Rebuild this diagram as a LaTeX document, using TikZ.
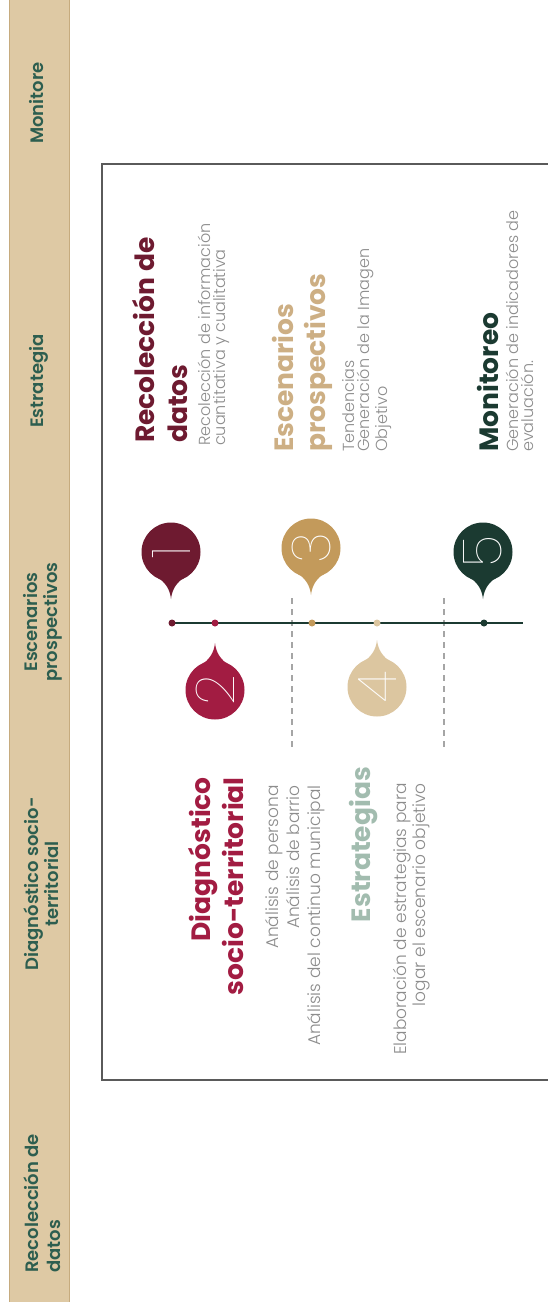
\documentclass[tikz,border=0pt]{standalone}
\usepackage{fontspec}
\setmainfont{Poppins}
\newfontfamily\popbold{Poppins Bold}
\newfontfamily\popsemi{Poppins SemiBold}
\newfontfamily\poplight{Poppins Light}
\newfontfamily\popthin{Poppins Thin}
\usetikzlibrary{calc}
\definecolor{maroon}{HTML}{6E1A30}
\definecolor{crimson}{HTML}{A21C42}
\definecolor{gold}{HTML}{C39A5B}
\definecolor{beige}{HTML}{DCC6A0}
\definecolor{dkgreen}{HTML}{1B3A31}
\definecolor{sage}{HTML}{A2BCAF}
\definecolor{tantitle}{HTML}{CDAF84}
\definecolor{bodygray}{HTML}{8C8C8C}
\definecolor{bandfill}{HTML}{DEC9A4}
\definecolor{bandedge}{HTML}{C6AB7E}
\definecolor{bandtext}{HTML}{2D5E4F}
\definecolor{boxgray}{HTML}{5A5A5A}
\definecolor{dashcol}{HTML}{A5A5A5}
\newcommand\droptip[3]{\fill[#3, shift={(#1)}, yscale=#2] (0,47) .. controls (-1,37) and (-6,30) .. (-14,25) -- (14,25) .. controls (6,30) and (1,37) .. (0,47) -- cycle;}
\begin{document}
\begin{tikzpicture}[x=1pt,y=-1pt,
  bandlabel/.style={rotate=90, inner sep=0, text=bandtext, font=\popsemi\fontsize{18}{20}\selectfont},
  titletext/.style={rotate=90, inner sep=0, font=\popbold\fontsize{26.5}{33}\selectfont},
  bodytext/.style={rotate=90, inner sep=0, text=bodygray, font=\poplight\fontsize{16}{15}\selectfont},
  bubble/.style={circle, inner sep=0, minimum size=59pt},
  numtext/.style={rotate=90, inner sep=0, text=white, font=\popthin\fontsize{54}{54}\selectfont},
  dotnode/.style={circle, inner sep=0, minimum size=7pt},
  timeline/.style={draw=dkgreen, line width=2.6pt},
  dashgray/.style={draw=dashcol, line width=1.6pt, dash pattern=on 6pt off 5pt},
  boxline/.style={draw=boxgray, line width=1.3pt}]
\useasboundingbox (0,0) rectangle (547,1302);
\fill[white] (0,0) rectangle (547,1302);
% band
\fill[bandfill] (9,0) rectangle (70,1302);
\draw[bandedge, line width=1pt] (9.5,0) -- (9.5,1302) (69.5,0) -- (69.5,1302);
\node[bandlabel, anchor=base] (l1) at (43,103) {Monitore};
\node[bandlabel, anchor=base] (l2) at (43,381) {Estrategia};
\node[bandlabel, anchor=base, align=center] (l3) at (57,622) {Escenarios\\prospectivos};
\node[bandlabel, anchor=base, align=center] (l4) at (58,884) {Diagnóstico socio-\\territorial};
\node[bandlabel, anchor=base west, align=left, font=\popsemi\fontsize{18}{22}\selectfont] (l5) at (60,1273) {Recolección de\\datos};
% box
\draw[boxline] (548,164) -- (102,164) -- (102,1080) -- (548,1080);
% dashed separators
\coordinate (da1) at (292,598); \coordinate (db1) at (292,747);
\coordinate (da2) at (444,598); \coordinate (db2) at (444,747);
\draw[dashgray] (da1) -- (db1);
\draw[dashgray] (da2) -- (db2);
% timeline
\coordinate (ts) at (172,623); \coordinate (te) at (523,623);
\draw[timeline] (ts) -- (te);
\node[dotnode, fill=maroon] (d1) at (172,623) {};
\node[dotnode, fill=crimson] (d2) at (215,623) {};
\node[dotnode, fill=gold] (d3) at (312,623) {};
\node[dotnode, fill=beige] (d4) at (377,623) {};
\node[dotnode, fill=dkgreen] (d5) at (484,623) {};
% pins
\droptip{171,552}{1}{maroon}
\node[bubble, fill=maroon] (p1) at (171,552) {};
\droptip{215,690}{-1}{crimson}
\node[bubble, fill=crimson] (p2) at (215,690) {};
\droptip{311,548}{1}{gold}
\node[bubble, fill=gold] (p3) at (311,548) {};
\droptip{377,687}{-1}{beige}
\node[bubble, fill=beige] (p4) at (377,687) {};
\droptip{483,552}{1}{dkgreen}
\node[bubble, fill=dkgreen] (p5) at (483,552) {};
\node[numtext] (n1) at (p1) {1};
\node[numtext] (n2) at (p2) {2};
\node[numtext] (n3) at (p3) {3};
\node[numtext] (n4) at (p4) {4};
\node[numtext] (n5) at (p5) {5};
% upper texts (left aligned; base = last line)
\node[titletext, text=maroon, anchor=base west, align=left] (t1) at (187,443) {Recolección de\\datos};
\node[bodytext, anchor=base west, align=left] (s1) at (225,446) {Recolección de información\\cuantitativa y cualitativa};
\node[titletext, text=tantitle, anchor=base west, align=left, font=\popbold\fontsize{26.5}{32}\selectfont] (t3) at (325,452) {Escenarios\\prospectivos};
\node[bodytext, anchor=base west, align=left] (s3) at (387,452) {Tendencias\\Generación de la Imagen\\Objetivo};
\node[titletext, text=dkgreen, anchor=base west, align=left] (t5) at (498,452) {Monitoreo};
\node[bodytext, anchor=base west, align=left] (s5) at (533,452) {Generación de indicadores de\\evaluación.};
% lower texts (right aligned)
\node[titletext, text=crimson, anchor=base east, align=right] (t2) at (243,777) {Diagnóstico\\socio-territorial};
\node[bodytext, anchor=base east, align=right, font=\poplight\fontsize{17}{21}\selectfont] (s2) at (320,785) {Análisis de persona\\Análisis de barrio\\Análisis del continuo municipal};
\node[titletext, text=sage, anchor=base east] (t4) at (370,767) {Estrategias};
\node[bodytext, anchor=base east, align=right, font=\poplight\fontsize{17}{17}\selectfont] (s4) at (425,783) {Elaboración de estrategias para\\logar el escenario objetivo};
\end{tikzpicture}
\end{document}
